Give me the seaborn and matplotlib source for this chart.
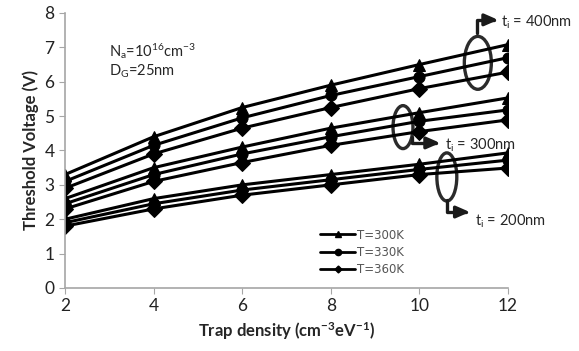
import matplotlib
matplotlib.use('Agg')
import matplotlib.pyplot as plt
from matplotlib.patches import Ellipse
from matplotlib.lines import Line2D
import seaborn as sb
import pandas as pd

# data
density = [2, 4, 6, 8, 10, 12]
temps = ['T=300K', 'T=330K', 'T=360K']
vth_400 = [[3.3, 4.4, 5.25, 5.9, 6.5, 7.08],
           [3.1, 4.15, 4.95, 5.6, 6.15, 6.7],
           [2.9, 3.9, 4.65, 5.25, 5.8, 6.28]]
vth_300 = [[2.6, 3.5, 4.1, 4.65, 5.1, 5.53],
           [2.45, 3.3, 3.9, 4.4, 4.85, 5.18],
           [2.3, 3.1, 3.65, 4.15, 4.55, 4.89]]
vth_200 = [[2.0, 2.6, 3.0, 3.3, 3.6, 3.93],
           [1.9, 2.45, 2.85, 3.15, 3.45, 3.72],
           [1.8, 2.3, 2.7, 3.0, 3.3, 3.49]]

rows = []
for ti, block in [('400nm', vth_400), ('300nm', vth_300), ('200nm', vth_200)]:
    for t, vals in zip(temps, block):
        for d, v in zip(density, vals):
            rows.append({'density': d, 'vth': v, 'T': t, 'ti': ti})
data = pd.DataFrame(rows)

sb.set_style('ticks')
plt.rcParams['font.family'] = ['Lato', 'DejaVu Sans']
plt.rcParams['mathtext.default'] = 'regular'

fig = plt.figure(figsize=(5.79, 3.51), dpi=100)
ax = fig.add_axes([0.1123, 0.1795, 0.765, 0.7835])

markers = {'T=300K': '^', 'T=330K': 'o', 'T=360K': 'D'}
sb.lineplot(data, x='density', y='vth', style='T', units='ti', estimator=None,
            markers=markers, dashes=False, color='black', lw=2.2, ms=8,
            mec='black', legend=False, ax=ax)

ax.set_xlim(2, 12)
ax.set_ylim(0, 8)
ax.set_xticks(density)
ax.set_yticks(range(0, 9))
sb.despine(ax=ax)
for s in ['left', 'bottom']:
    ax.spines[s].set_color('#a6a6a6')
    ax.spines[s].set_linewidth(1.2)
ax.tick_params(colors='#a6a6a6', labelcolor='#222222', labelsize=12.5, length=4)

ax.set_xlabel('Trap density (cm$^{-3}$eV$^{-1}$)', fontsize=12, fontweight='bold')
ax.set_ylabel('Threshold Voltage (V)', fontsize=12, fontweight='bold')

ax.text(3.0, 6.9, 'N$_a$=10$^{16}$cm$^{-3}$', fontsize=10.5, va='center')
ax.text(3.0, 6.3, 'D$_G$=25nm', fontsize=10.5, va='center')

# ellipses grouping the thickness sets
for cx, cy, w, h in [(11.32, 6.55, 0.61, 1.54), (9.63, 4.68, 0.45, 1.25),
                     (10.62, 3.23, 0.45, 1.4)]:
    ax.add_patch(Ellipse((cx, cy), w, h, fill=False, ec='#2b2b2b', lw=2.4))

# elbow arrows with labels
arrows = [((11.30, 7.42), (11.78, 7.80), (11.84, 7.72), 't$_i$ = 400nm', 90),
          ((9.83, 4.39), (10.47, 4.22), (10.58, 4.15), 't$_i$ = 300nm', -90),
          ((10.62, 2.56), (11.14, 2.21), (11.25, 1.95), 't$_i$ = 200nm', -90)]
for start, end, tpos, label, ang in arrows:
    ax.annotate('', xy=end, xytext=start, annotation_clip=False,
                arrowprops=dict(arrowstyle='-|>,head_width=0.35,head_length=0.8',
                                connectionstyle='angle,angleA=%d,angleB=0,rad=0' % ang,
                                color='#1a1a1a', lw=2.4, shrinkA=0, shrinkB=0))
    ax.text(tpos[0], tpos[1], label, fontsize=10.5, va='center', clip_on=False)

handles = [Line2D([], [], color='black', lw=2.0, marker=markers[t],
                  ms=4.5 if t != 'T=360K' else 3.5)
           for t in temps]
leg = ax.legend(handles, temps, loc='center', bbox_to_anchor=(0.67, 0.13),
                frameon=False, handlelength=3.0, labelspacing=0.35,
                handletextpad=0.1, prop={'family': 'DejaVu Sans', 'size': 8.5})
for txt in leg.get_texts():
    txt.set_color('#555555')

plt.savefig('out.png', dpi=100)
